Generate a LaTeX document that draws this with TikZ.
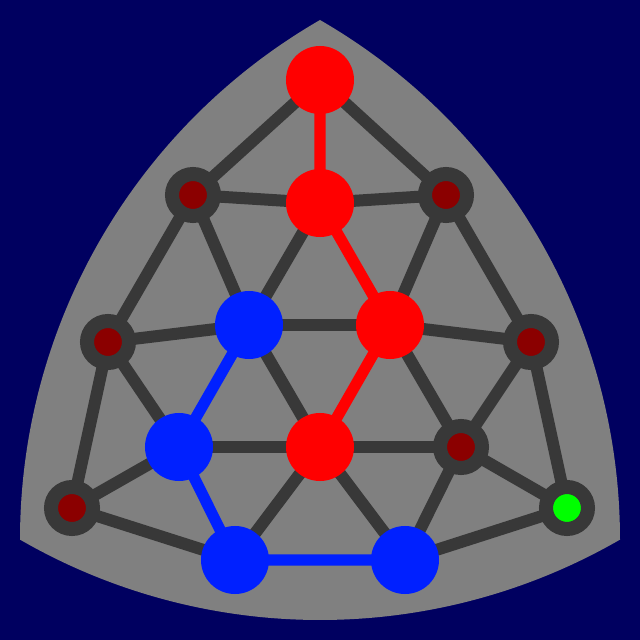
\documentclass[tikz,border=0pt]{standalone}
\usetikzlibrary{backgrounds}
\definecolor{boardNavy}{RGB}{0,0,96}
\definecolor{boardGray}{RGB}{128,128,128}
\definecolor{edgeGray}{RGB}{56,56,56}
\definecolor{stoneRed}{RGB}{255,0,0}
\definecolor{stoneBlue}{RGB}{0,32,255}
\definecolor{holeRed}{RGB}{139,0,0}
\definecolor{holeGreen}{RGB}{0,255,0}

\begin{document}
\begin{tikzpicture}[
  x=0.025cm, y=0.025cm,
  redstone/.style={circle, fill=stoneRed, minimum size=1.7cm, inner sep=0pt},
  bluestone/.style={circle, fill=stoneBlue, minimum size=1.7cm, inner sep=0pt},
  hole/.style={circle, fill=holeRed, draw=edgeGray, line width=0.35cm,
    minimum size=1.05cm, inner sep=0pt},
  goal/.style={hole, fill=holeGreen},
  link/.style={draw=edgeGray, line width=0.3cm},
  redlink/.style={draw=stoneRed, line width=0.28cm},
  bluelink/.style={draw=stoneBlue, line width=0.28cm}
]
\useasboundingbox (0,0) rectangle (640,640);

% - stones and holes -
\node[redstone] (top) at (320,560) {};
\node[hole] (hA) at (193,445) {};
\node[redstone] (rB) at (320,437) {};
\node[hole] (hC) at (446,445) {};
\node[hole] (hD) at (108,298) {};
\node[bluestone] (bE) at (249,315) {};
\node[redstone] (rF) at (390,315) {};
\node[hole] (hG) at (531,298) {};
\node[bluestone] (bH) at (179,193) {};
\node[redstone] (rI) at (320,193) {};
\node[hole] (hJ) at (461,193) {};
\node[hole] (hK) at (72,132) {};
\node[goal] (gL) at (567,132) {};
\node[bluestone] (bM) at (235,80) {};
\node[bluestone] (bN) at (405,80) {};

\begin{scope}[on background layer]
  \fill[boardNavy] (0,0) rectangle (640,640);
  % reuleaux board
  \fill[boardGray] (320,620) arc[start angle=60, end angle=0, radius=600]
    arc[start angle=-60, end angle=-120, radius=600]
    arc[start angle=180, end angle=120, radius=600] -- cycle;

  \foreach \a/\b in {top/hA, top/hC, hA/rB, rB/hC, hA/hD, hA/bE, hC/rF, hC/hG,
      rB/bE, hD/bE, bE/rF, rF/hG, hD/bH, hD/hK, bE/rI, rF/hJ, hG/hJ, hG/gL,
      bH/rI, rI/hJ, hK/bH, hK/bM, rI/bM, rI/bN, hJ/bN, hJ/gL, bN/gL}
    \draw[link] (\a.center) -- (\b.center);

  \draw[redlink] (top.center) -- (rB.center) -- (rF.center) -- (rI.center);
  \draw[bluelink] (bE.center) -- (bH.center) -- (bM.center) -- (bN.center);
\end{scope}

\end{tikzpicture}
\end{document}
